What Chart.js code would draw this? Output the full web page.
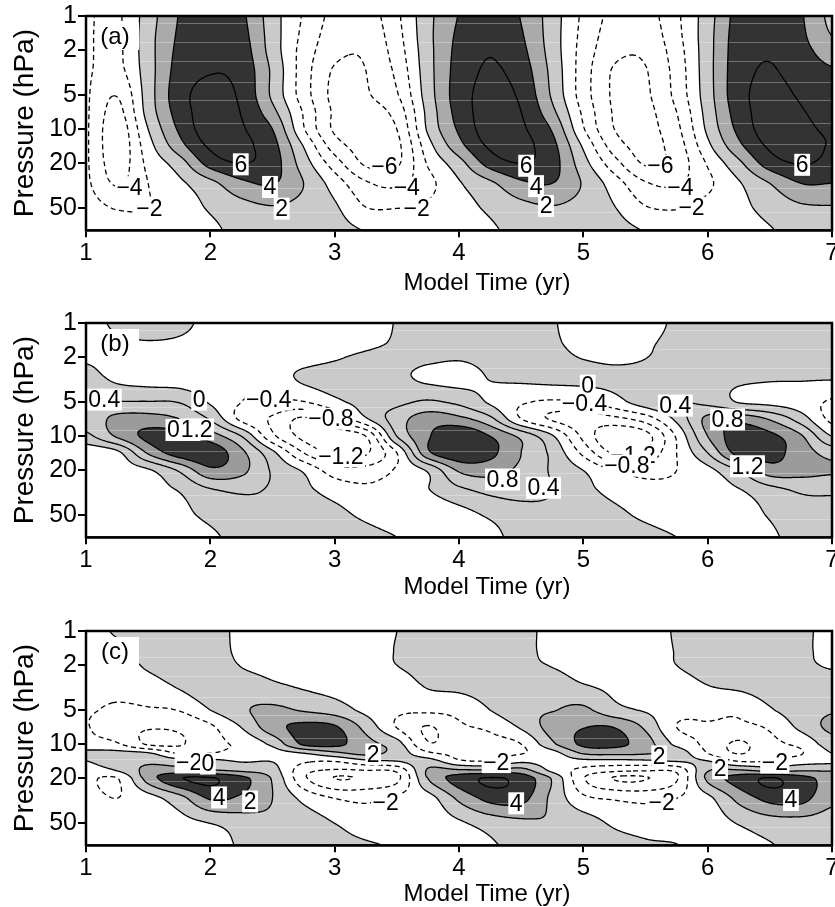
<!DOCTYPE html>
<html>
<head>
<meta charset="utf-8">
<script src="https://cdn.jsdelivr.net/npm/chart.js@4.4.0/dist/chart.umd.min.js"></script>
<style>
  html, body { margin: 0; padding: 0; background: #fff; }
  #wrap { position: relative; width: 835px; height: 907px; overflow: hidden; }
  #wrap canvas { position: absolute; left: 0; }
</style>
</head>
<body>
<div id="wrap">
  <canvas id="chartA" width="835" height="300" style="top:0px"></canvas>
  <canvas id="chartB" width="835" height="300" style="top:307px"></canvas>
  <canvas id="chartC" width="835" height="300" style="top:615px"></canvas>
</div>
<script>
// grid columns (model time, yr)
const years = [1, 1.25, 1.5, 1.75, 2, 2.25, 2.5, 2.75, 3, 3.25, 3.5, 3.75, 4, 4.25, 4.5, 4.75, 5, 5.25, 5.5, 5.75, 6, 6.25, 6.5, 6.75, 7];
const pressureTicks = [1, 2, 5, 10, 20, 50];
const streakPressures = [1.15, 1.7, 2.5, 3.8, 5.5, 8.8, 13.6, 21, 33, 54];

// (a) rows from top (1 hPa) to bottom
const pressA = [1, 1.5, 2, 3, 5, 7, 10, 14, 20, 30, 50, 78];
const fieldA = [
  [-1.8, -2.3, 1.0, 4.1, 5.3, 4.4, 0.9, -2.2, -4.6, -5.0, -2.4, 1.4, 4.1, 5.4, 3.9, 1.0, -2.4, -4.6, -4.8, -2.4, 1.1, 4.8, 5.6, 4.2, 1.5],
  [-1.8, -2.4, 1.2, 4.3, 5.6, 4.7, 1.0, -2.5, -5.0, -5.4, -2.7, 1.4, 4.4, 5.7, 4.2, 1.0, -2.6, -5.0, -5.2, -2.6, 1.2, 5.0, 5.8, 4.4, 2.0],
  [-1.8, -2.4, 1.2, 4.5, 5.8, 5.0, 1.1, -2.8, -5.4, -5.7, -3.0, 1.3, 4.6, 5.9, 4.5, 1.1, -2.8, -5.4, -5.6, -2.9, 1.2, 5.1, 5.9, 4.7, 3.0],
  [-1.8, -2.6, 1.1, 4.8, 5.9, 5.3, 1.6, -3.0, -6.2, -6.0, -3.5, 1.2, 4.8, 6.2, 5.0, 1.4, -3.0, -6.2, -6.1, -3.2, 1.2, 5.2, 6.1, 5.2, 4.2],
  [-1.8, -3.9, 1.0, 5.2, 6.6, 5.6, 1.6, -3.0, -6.5, -6.2, -4.2, 1.0, 5.0, 6.6, 5.6, 1.7, -3.0, -6.3, -6.3, -3.4, 1.1, 5.3, 6.5, 5.8, 5.0],
  [-1.8, -4.6, 0.8, 4.9, 6.9, 5.9, 2.6, -2.2, -6.3, -6.7, -5.2, 0.6, 4.8, 6.8, 6.0, 2.5, -2.4, -6.2, -6.5, -4.0, 0.8, 5.0, 6.8, 6.1, 5.5],
  [-1.8, -5.2, 0.0, 4.3, 7.0, 6.2, 4.0, -1.8, -6.3, -7.0, -6.0, 0.3, 4.3, 6.9, 6.3, 3.8, -1.8, -6.0, -6.6, -4.5, 0.4, 4.5, 6.9, 6.3, 5.8],
  [-1.8, -5.3, -0.8, 3.2, 6.3, 6.4, 4.7, -0.1, -5.0, -6.8, -6.5, -0.8, 3.3, 6.3, 6.5, 4.6, -0.3, -5.0, -6.6, -5.0, -0.5, 3.5, 6.3, 6.5, 5.9],
  [-1.8, -5.0, -1.5, 1.0, 4.8, 6.0, 4.9, 1.0, -3.0, -6.3, -6.3, -1.8, 1.2, 4.8, 6.0, 4.8, 0.8, -3.2, -6.2, -5.2, -1.8, 1.5, 5.0, 6.1, 5.5],
  [-1.7, -4.2, -2.0, -0.4, 1.4, 3.5, 4.1, 2.0, -0.9, -3.7, -4.4, -2.6, -0.2, 1.6, 3.6, 4.0, 1.8, -1.0, -3.8, -4.2, -2.4, -0.2, 2.0, 4.0, 4.0],
  [-1.2, -2.1, -2.0, -1.0, 0.2, 1.2, 1.8, 1.3, 0.3, -1.9, -2.0, -1.6, -0.7, 0.3, 1.3, 1.8, 1.2, 0.1, -1.8, -2.1, -1.3, -0.5, 0.6, 1.6, 1.8],
  [-0.8, -1.2, -1.2, -0.7, -0.3, 0.5, 1.0, 1.0, 0.6, -0.1, -0.9, -0.9, -0.6, -0.2, 0.5, 1.0, 1.0, 0.6, -0.1, -0.8, -0.9, -0.6, -0.1, 0.6, 1.0]
];
const levelsA = [-6, -4, -2, 0, 2, 4, 6];
const shadeA = [0, 2, 4];
const labelsA = [
  ['6', 2.245, 20.4], ['4', 2.48, 32.3], ['2', 2.574, 50.2], ['−4', 1.35, 32.5], ['−2', 1.51, 50],
  ['−6', 3.40, 21.5], ['−4', 3.58, 32.7], ['−2', 3.66, 50],
  ['6', 4.54, 21], ['4', 4.62, 31.8], ['2', 4.70, 47.5],
  ['−6', 5.62, 21], ['−4', 5.78, 32.7], ['−2', 5.87, 49.3], ['6', 6.76, 20.6]
];

// (b)
const pressB = [1, 1.5, 2, 3, 5, 7, 10, 14, 20, 30, 50, 78];
const fieldB = [
  [-0.1, 0.05, 0.15, 0.08, -0.1, -0.25, -0.3, -0.3, -0.25, -0.15, 0.02, 0.2, 0.3, 0.3, 0.2, 0.03, -0.15, -0.25, -0.12, 0.05, 0.15, 0.2, 0.25, 0.25, 0.25],
  [-0.1, -0.05, -0.02, -0.05, -0.15, -0.25, -0.3, -0.3, -0.2, -0.1, 0.05, 0.2, 0.3, 0.3, 0.2, 0.05, -0.1, -0.2, -0.05, 0.08, 0.15, 0.2, 0.25, 0.25, 0.25],
  [-0.05, -0.1, -0.15, -0.2, -0.25, -0.3, -0.3, -0.2, -0.05, 0.08, 0.15, 0.1, 0.05, 0.15, 0.2, 0.1, -0.02, -0.1, -0.01, 0.15, 0.25, 0.3, 0.3, 0.3, 0.3],
  [0.15, -0.1, -0.2, -0.25, -0.3, -0.3, -0.2, 0.08, 0.2, 0.2, 0.1, -0.1, -0.15, 0.02, 0.1, 0.15, 0.15, 0.12, 0.15, 0.2, 0.2, 0.1, 0.05, 0.05, 0.05],
  [0.5, 0.42, 0.42, 0.38, -0.05, -0.4, -0.45, -0.42, -0.1, 0.15, 0.3, 0.45, 0.3, -0.05, -0.35, -0.45, -0.4, -0.15, 0.2, 0.42, 0.3, -0.02, -0.1, -0.2, -0.45],
  [0.55, 0.9, 0.95, 0.8, 0.35, -0.5, -0.85, -1.25, -0.8, -0.05, 0.6, 1.0, 0.9, 0.5, -0.4, -0.85, -1.0, -0.9, -0.6, 0.1, 0.9, 1.05, 0.75, 0.2, -0.5],
  [0.3, 0.85, 1.3, 1.35, 1.0, 0.4, -0.7, -1.3, -1.45, -1.2, 0.4, 1.15, 1.55, 1.2, 0.7, 0.05, -0.9, -1.55, -1.35, -0.35, 0.8, 1.4, 1.3, 0.85, 0.0],
  [-0.3, -0.1, 0.85, 1.4, 1.45, 0.9, 0.1, -0.8, -1.3, -1.25, -0.4, 1.1, 1.5, 1.3, 0.8, 0.3, -0.5, -1.25, -1.1, -0.4, 0.4, 1.35, 1.35, 1.0, 0.65],
  [-0.25, -0.2, -0.05, 0.45, 1.1, 0.9, 0.35, -0.05, -0.6, -0.65, -0.35, 0.05, 0.85, 0.95, 0.7, 0.35, 0.0, -0.4, -0.55, -0.4, -0.12, 0.4, 1.0, 0.95, 0.85],
  [-0.2, -0.25, -0.15, 0.02, 0.35, 0.45, 0.35, 0.1, -0.15, -0.3, -0.2, -0.02, 0.3, 0.5, 0.55, 0.4, 0.12, -0.12, -0.25, -0.3, -0.2, -0.03, 0.25, 0.45, 0.45],
  [-0.25, -0.3, -0.25, -0.1, 0.08, 0.22, 0.3, 0.25, 0.12, -0.08, -0.25, -0.28, -0.15, 0.05, 0.2, 0.3, 0.25, 0.1, -0.08, -0.25, -0.3, -0.2, 0.03, 0.2, 0.3],
  [-0.1, -0.15, -0.18, -0.15, -0.05, 0.1, 0.2, 0.25, 0.22, 0.15, 0.0, -0.15, -0.2, -0.08, 0.1, 0.2, 0.25, 0.22, 0.15, 0.0, -0.15, -0.2, -0.05, 0.1, 0.2]
];
const levelsB = [-1.2, -0.8, -0.4, 0, 0.4, 0.8, 1.2];
const shadeB = [0, 0.8, 1.2];
const labelsB = [
  ['0.4', 1.147, 4.75], ['0', 1.91, 4.75], ['0.8', 1.78, 8.8], ['1.2', 1.89, 8.7],
  ['−0.4', 2.47, 4.75], ['−0.8', 2.97, 7.0], ['−1.2', 3.05, 15.0],
  ['0', 5.035, 3.57], ['−0.4', 5.01, 5.16], ['0.4', 5.74, 5.36], ['0.8', 6.16, 7.1], ['1.2', 6.32, 18.4],
  ['0.8', 4.35, 24.1], ['0.4', 4.68, 28.5], ['−1.2', 5.40, 14.8], ['−0.8', 5.35, 18.2]
];

// (c)
const pressC = [1, 1.5, 2, 3, 5, 7, 10, 12, 14, 17, 20, 30, 50, 78];
const fieldC = [
  [-0.6, 0.2, 0.9, 1.0, 1.2, -0.7, -1.0, -1.1, -1.0, -0.8, 0.0, 0.8, 1.0, 0.9, 0.5, -0.5, -1.0, -1.1, -1.0, 0.2, 0.7, 1.0, 0.8, 0.3, -0.4],
  [-0.8, -0.5, 0.8, 1.2, 1.3, -0.6, -1.0, -1.2, -1.1, -0.9, 0.1, 0.9, 1.1, 0.9, 0.5, -0.5, -1.0, -1.2, -1.0, 0.1, 0.8, 1.1, 0.9, 0.3, -0.4],
  [-0.9, -0.9, 0.3, 1.0, 1.5, -0.1, -0.6, -1.0, -1.2, -1.1, 0.0, 0.7, 1.1, 0.8, 0.5, -0.1, -0.8, -1.1, -1.1, 0.0, 0.8, 1.0, 0.9, 0.4, -0.2],
  [-1.2, -1.4, -0.8, 0.3, 1.6, 1.0, 0.3, -0.3, -0.8, -1.3, -1.0, 0.2, 0.5, 0.9, 1.2, 1.0, 0.1, -0.5, -1.2, -0.9, 0.0, 0.4, 0.9, 1.0, 1.0],
  [-1.8, -2.3, -2.2, -1.9, 0.0, 1.7, 2.4, 1.8, 1.0, -0.5, -1.6, -1.6, -1.3, 0.0, 1.5, 1.9, 2.4, 0.6, -0.2, -1.2, -1.4, -1.6, -0.2, 1.0, 1.8],
  [-1.9, -3.2, -3.8, -3.6, -2.3, 0.1, 3.2, 4.5, 4.2, 1.3, -2.1, -4.1, -2.3, -1.6, 0.3, 2.8, 3.9, 3.9, 1.6, -2.0, -2.2, -2.4, -1.7, 0.5, 2.5],
  [-1.4, -1.8, -4.2, -4.2, -2.5, -1.6, 0.5, 4.3, 4.5, 2.7, 0.8, -3.8, -2.6, -2.6, -2.0, 1.6, 4.4, 4.5, 2.9, -0.5, -2.5, -4.3, -2.5, -1.5, 1.0],
  [0.6, 0.6, 0.2, -2.2, -2.0, -1.3, -0.8, 0.0, 1.5, 2.5, 1.2, -1.6, -2.5, -2.4, -2.1, -0.8, 2.2, 2.5, 2.2, 1.2, -2.0, -4.1, -2.4, -2.1, 0.0],
  [0.0, 1.0, 1.5, 0.8, 0.5, -0.2, -0.1, -1.6, -1.8, -0.4, 0.1, 0.8, -1.7, -2.0, -0.5, -1.0, -0.5, -0.5, -0.3, 0.2, 0.0, -2.2, -2.0, -1.0, -0.5],
  [-0.8, 0.1, 2.6, 2.8, 2.2, 1.6, 0.8, -3.2, -4.2, -4.0, -3.5, 2.2, 2.3, 2.2, 2.8, -0.5, -2.6, -3.5, -3.8, -3.5, 1.8, 2.2, 1.4, 1.8, 1.8],
  [-1.6, -2.1, 2.8, 5.8, 6.2, 4.6, 1.8, -3.5, -6.0, -5.6, -4.5, 2.0, 4.9, 6.2, 5.2, 1.8, -3.8, -6.1, -6.1, -4.2, 2.4, 4.8, 6.2, 4.8, 3.2],
  [-1.3, -2.0, -0.8, 1.2, 4.2, 3.6, 2.0, -0.5, -2.0, -2.4, -1.6, -0.8, 2.4, 4.6, 4.6, 1.5, -1.5, -2.2, -2.5, -2.0, -0.5, 2.6, 4.6, 4.6, 2.5],
  [-0.8, -1.0, -0.8, -0.6, 0.0, 0.9, 1.5, 1.0, 0.0, -1.0, -1.3, -1.2, -0.3, 0.8, 1.5, 1.8, 1.0, -0.3, -0.8, -1.2, -1.0, 0.1, 1.0, 1.2, 1.0],
  [-0.5, -0.6, -0.6, -0.5, -0.6, 0.2, 1.0, 1.2, 0.6, 0.2, -0.2, -0.8, -0.8, -0.2, 0.5, 1.0, 1.2, 0.6, 0.2, 0.05, -0.8, -0.5, -0.1, 0.5, 0.7]
];
const levelsC = [-6, -4, -2, 0, 2, 4, 6];
const shadeC = [0, 2, 4];
const labelsC = [
  ['−2', 1.83, 14.5], ['0', 1.98, 14.8], ['4', 2.07, 29.5], ['2', 2.32, 32],
  ['2', 3.31, 12.3], ['−2', 3.41, 32.7], ['−2', 4.30, 14.4], ['4', 4.46, 33.2],
  ['2', 5.61, 12.8], ['−2', 5.63, 32.6], ['2', 6.10, 16.3], ['−2', 6.54, 14.5], ['4', 6.67, 31.0]
];

const FONT = '"Liberation Sans", Arial, Helvetica, sans-serif';
const AREA_H = 214.3;
const X_TITLE = 'Model Time (yr)';

const panels = {
  chartA: { tag: '(a)', press: pressA, field: fieldA, levels: levelsA, shadeAt: shadeA, titleY: 290,
            colors: [[255, 255, 255], [202, 202, 202], [170, 170, 170], [51, 51, 51]], labels: labelsA },
  chartB: { tag: '(b)', press: pressB, field: fieldB, levels: levelsB, shadeAt: shadeB, titleY: 287,
            colors: [[255, 255, 255], [202, 202, 202], [155, 155, 155], [51, 51, 51]], labels: labelsB },
  chartC: { tag: '(c)', press: pressC, field: fieldC, levels: levelsC, shadeAt: shadeC, titleY: 285.5,
            colors: [[255, 255, 255], [202, 202, 202], [168, 168, 168], [51, 51, 51]], labels: labelsC }
};

// fractional index of v in an ascending array
function fracIndex(arr, v) {
  const n = arr.length;
  if (v <= arr[0]) return 0;
  if (v >= arr[n - 1]) return n - 1;
  let k = 0;
  while (arr[k + 1] < v) k++;
  return k + (v - arr[k]) / (arr[k + 1] - arr[k]);
}

function cr(a, b, c, d, t) {
  return b + 0.5 * t * (c - a + t * (2 * a - 5 * b + 4 * c - d + t * (3 * (b - c) + d - a)));
}

function makeSampler(field) {
  const ny = field.length, nx = field[0].length;
  return function (fi, fj) {
    const i1 = Math.min(Math.floor(fi), nx - 2), j1 = Math.min(Math.floor(fj), ny - 2);
    const tx = fi - i1, ty = fj - j1;
    const i0 = Math.max(i1 - 1, 0), i2 = i1 + 1, i3 = Math.min(i1 + 2, nx - 1);
    const r = [];
    for (const j of [Math.max(j1 - 1, 0), j1, j1 + 1, Math.min(j1 + 2, ny - 1)]) {
      const row = field[j];
      r.push(cr(row[i0], row[i1], row[i2], row[i3], tx));
    }
    return cr(r[0], r[1], r[2], r[3], ty);
  };
}

// marching squares, segments chained into polylines
function contourLines(vals, nx, ny, level) {
  const segA = [], segB = [];
  const pos = new Map();
  for (let j = 0; j < ny - 1; j++) {
    for (let i = 0; i < nx - 1; i++) {
      const v0 = vals[j * nx + i], v1 = vals[j * nx + i + 1];
      const v2 = vals[(j + 1) * nx + i + 1], v3 = vals[(j + 1) * nx + i];
      const b0 = v0 > level ? 1 : 0, b1 = v1 > level ? 1 : 0, b2 = v2 > level ? 1 : 0, b3 = v3 > level ? 1 : 0;
      const c = b0 | (b1 << 1) | (b2 << 2) | (b3 << 3);
      if (c === 0 || c === 15) continue;
      const T = (j * nx + i) * 2, B = ((j + 1) * nx + i) * 2;
      const L = (j * nx + i) * 2 + 1, R = (j * nx + i + 1) * 2 + 1;
      if (b0 !== b1 && !pos.has(T)) pos.set(T, [i + (level - v0) / (v1 - v0), j]);
      if (b1 !== b2 && !pos.has(R)) pos.set(R, [i + 1, j + (level - v1) / (v2 - v1)]);
      if (b3 !== b2 && !pos.has(B)) pos.set(B, [i + (level - v3) / (v2 - v3), j + 1]);
      if (b0 !== b3 && !pos.has(L)) pos.set(L, [i, j + (level - v0) / (v3 - v0)]);
      const add = (e1, e2) => { segA.push(e1); segB.push(e2); };
      const centre = (v0 + v1 + v2 + v3) / 4 > level;
      switch (c) {
        case 1: case 14: add(L, T); break;
        case 2: case 13: add(T, R); break;
        case 3: case 12: add(L, R); break;
        case 4: case 11: add(R, B); break;
        case 6: case 9: add(T, B); break;
        case 7: case 8: add(L, B); break;
        case 5: if (centre) { add(T, R); add(B, L); } else { add(L, T); add(R, B); } break;
        case 10: if (centre) { add(L, T); add(R, B); } else { add(T, R); add(B, L); } break;
      }
    }
  }
  const byEdge = new Map();
  for (let s = 0; s < segA.length; s++) {
    for (const e of [segA[s], segB[s]]) {
      let l = byEdge.get(e);
      if (!l) { l = []; byEdge.set(e, l); }
      l.push(s);
    }
  }
  const used = new Uint8Array(segA.length);
  const walk = line => {
    let e = line[line.length - 1];
    for (;;) {
      let nxt = -1;
      for (const s of byEdge.get(e)) if (!used[s]) { nxt = s; break; }
      if (nxt < 0) break;
      used[nxt] = 1;
      e = segA[nxt] === e ? segB[nxt] : segA[nxt];
      line.push(e);
    }
  };
  const lines = [];
  for (let s = 0; s < segA.length; s++) {
    if (used[s]) continue;
    used[s] = 1;
    const line = [segA[s], segB[s]];
    walk(line); line.reverse(); walk(line);
    lines.push(line.map(e => pos.get(e)));
  }
  return lines;
}

const fieldPlugin = {
  id: 'contourField',
  afterDraw(chart) {
    const P = panels[chart.canvas.id];
    if (!P) return;
    const ctx = chart.ctx, area = chart.chartArea;
    const xs = chart.scales.x, ys = chart.scales.y;
    const left = Math.round(area.left), top = Math.round(area.top);
    const W = Math.round(area.right) - left, H = Math.round(area.bottom) - top;
    const nx = W + 1, ny = H + 1;
    const lps = P.press.map(v => Math.log10(v));
    const sample = makeSampler(P.field);
    const fi = new Float64Array(nx), fj = new Float64Array(ny);
    for (let i = 0; i < nx; i++) fi[i] = fracIndex(years, xs.getValueForPixel(left + i));
    for (let j = 0; j < ny; j++) fj[j] = fracIndex(lps, Math.log10(ys.getValueForPixel(top + j)));
    const vals = new Float64Array(nx * ny);
    for (let j = 0; j < ny; j++) for (let i = 0; i < nx; i++) vals[j * nx + i] = sample(fi[i], fj[j]);

    // shaded bands
    const img = ctx.createImageData(W, H);
    for (let j = 0; j < H; j++) {
      for (let i = 0; i < W; i++) {
        const v = (vals[j * nx + i] + vals[j * nx + i + 1] + vals[(j + 1) * nx + i] + vals[(j + 1) * nx + i + 1]) / 4;
        let k = 0;
        while (k < P.shadeAt.length && v > P.shadeAt[k]) k++;
        const col = P.colors[k], o = (j * W + i) * 4;
        img.data[o] = col[0]; img.data[o + 1] = col[1]; img.data[o + 2] = col[2]; img.data[o + 3] = 255;
      }
    }
    const off = document.createElement('canvas');
    off.width = W; off.height = H;
    off.getContext('2d').putImageData(img, 0, 0);
    ctx.save();
    ctx.drawImage(off, left, top);

    ctx.beginPath();
    ctx.rect(left, top, W, H);
    ctx.clip();

    // faint level streaks seen in the original shading
    ctx.strokeStyle = 'rgba(255,255,255,0.3)';
    ctx.lineWidth = 1;
    for (const p of streakPressures) {
      const py = Math.round(ys.getPixelForValue(p)) + 0.5;
      ctx.beginPath(); ctx.moveTo(left, py); ctx.lineTo(left + W, py); ctx.stroke();
    }

    // contour lines
    ctx.strokeStyle = '#000';
    ctx.lineWidth = 1.3;
    ctx.lineJoin = 'round';
    for (const lev of P.levels) {
      ctx.setLineDash(lev < 0 ? [5, 3.5] : []);
      for (const line of contourLines(vals, nx, ny, lev)) {
        ctx.beginPath();
        ctx.moveTo(left + line[0][0], top + line[0][1]);
        for (let k = 1; k < line.length; k++) ctx.lineTo(left + line[k][0], top + line[k][1]);
        ctx.stroke();
      }
    }
    ctx.setLineDash([]);

    // contour labels
    ctx.font = '23px ' + FONT;
    ctx.textAlign = 'center';
    ctx.textBaseline = 'middle';
    for (const [txt, xv, pv] of P.labels) {
      const px = xs.getPixelForValue(xv), py = ys.getPixelForValue(pv);
      const w = ctx.measureText(txt).width;
      ctx.fillStyle = '#fff';
      ctx.fillRect(px - w / 2 - 1.5, py - 11, w + 3, 22);
      ctx.fillStyle = '#000';
      ctx.fillText(txt, px, py + 1);
    }
    ctx.restore();

    // panel tag
    ctx.save();
    ctx.fillStyle = '#fff';
    ctx.fillRect(area.left + 13, area.top + 6, 40, 28);
    ctx.fillStyle = '#000';
    ctx.font = '24px ' + FONT;
    ctx.textAlign = 'center';
    ctx.textBaseline = 'middle';
    ctx.fillText(P.tag, area.left + 29, area.top + 21);

    // x-axis title, set right of centre as in the original
    ctx.textBaseline = 'alphabetic';
    ctx.fillText(X_TITLE, 487, P.titleY);

    // frame
    ctx.strokeStyle = '#000';
    ctx.lineWidth = 2.5;
    ctx.strokeRect(area.left, area.top, area.right - area.left, area.bottom - area.top);
    ctx.restore();
  }
};

function makeChart(id, canvasH) {
  return new Chart(document.getElementById(id), {
    type: 'scatter',
    data: { datasets: [{ data: [] }] },
    options: {
      responsive: false,
      animation: false,
      devicePixelRatio: 1,
      events: [],
      layout: { autoPadding: false, padding: { top: 16, left: 0, right: 3, bottom: 0 } },
      plugins: { legend: { display: false }, tooltip: { enabled: false } },
      scales: {
        x: {
          type: 'linear', min: 1, max: 7,
          ticks: { stepSize: 1, color: '#000', font: { size: 24, family: FONT }, padding: 2, maxRotation: 0 },
          grid: { drawOnChartArea: false, drawTicks: true, tickLength: 7, color: '#000', lineWidth: 2 },
          border: { display: true, color: '#000', width: 2.5 },
          title: { display: false },
          afterFit(s) { s.height = canvasH - 16 - AREA_H; s.paddingLeft = 0; s.paddingRight = 0; }
        },
        y: {
          type: 'logarithmic', reverse: true, min: 1, max: 78,
          afterBuildTicks(s) { s.ticks = pressureTicks.map(v => ({ value: v })); },
          ticks: { color: '#000', font: { size: 25, family: FONT }, padding: 1, autoSkip: false,
                   callback: v => String(v) },
          grid: { drawOnChartArea: false, drawTicks: true, tickLength: 8, color: '#000', lineWidth: 2 },
          border: { display: true, color: '#000', width: 2.5 },
          title: { display: true, text: 'Pressure (hPa)', color: '#000',
                   font: { size: 28, family: FONT }, padding: { top: 8, bottom: 0 } },
          afterFit(s) { s.width = 86; s.paddingTop = 0; s.paddingBottom = 0; }
        }
      }
    },
    plugins: [fieldPlugin]
  });
}

makeChart('chartA', 300);
makeChart('chartB', 300);
makeChart('chartC', 300);
</script>
</body>
</html>
